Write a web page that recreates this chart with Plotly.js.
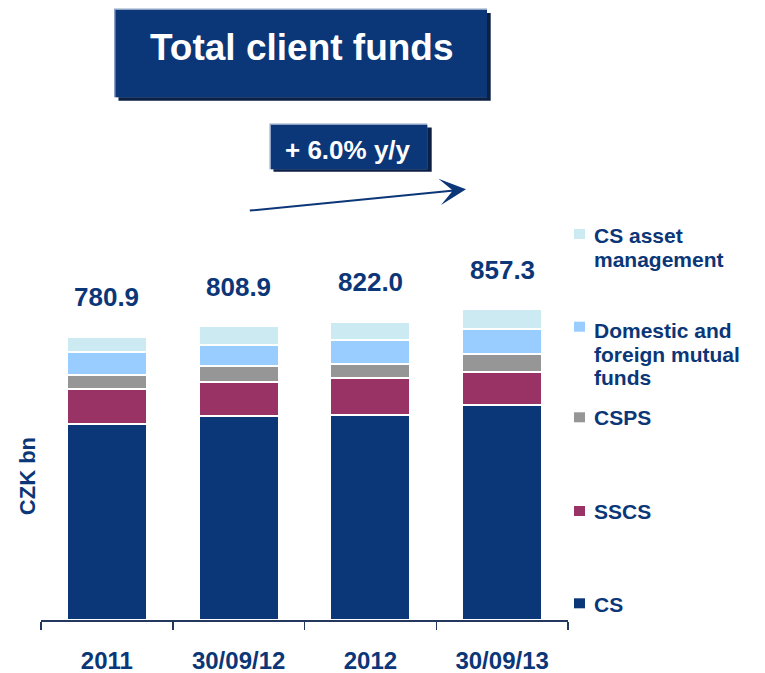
<!DOCTYPE html>
<html>
<head>
<meta charset="utf-8">
<script src="https://cdn.plot.ly/plotly-3.0.1.min.js"></script>
<style>html,body{margin:0;padding:0;background:#fff;}#chart{width:765px;height:673px;}</style>
</head>
<body>
<div id="chart"></div>
<script>
// ---- data ----
const categories = ['2011', '30/09/12', '2012', '30/09/13'];
const cs       = [538.8, 563.2, 565.2, 592.7];
const sscs     = [97.7, 92.7, 102.4, 91.8];
const csps     = [38.6, 43.3, 39.0, 49.6];
const mutual   = [63.7, 59.3, 63.4, 66.2];
const assetMgmt = [42.1, 50.4, 52.0, 57.0];
const totals   = [780.9, 808.9, 822.0, 857.3];
const seriesNames = ['CS', 'SSCS', 'CSPS', 'Domestic and foreign mutual funds', 'CS asset management'];
const titleText = 'Total client funds';
const growthText = '+ 6.0% y/y';
const yTitle = 'CZK bn';

// ---- style ----
const NAVY = '#0b3677';
const colors = ['#0b3677', '#993366', '#969696', '#99ccff', '#cceaf2'];
const FONT = 'Arial, "Liberation Sans", sans-serif';
const W = 765, H = 673, L = 41, R = 197, T = 0, B = 53;
function xp(px) { return (px - L) / (W - L - R); }
function yp(py) { return (H - B - py) / (H - T - B); }

const seriesValues = [cs, sscs, csps, mutual, assetMgmt];
const traces = seriesValues.map((vals, i) => ({
  type: 'bar',
  name: seriesNames[i],
  x: categories,
  y: vals,
  marker: { color: colors[i], line: { color: '#ffffff', width: 2 } },
  hoverinfo: 'x+y+name',
  showlegend: false
}));

const shapes = [];
const annotations = [];

function rectPx(x0, y0, x1, y1, color) {
  shapes.push({ type: 'rect', xref: 'paper', yref: 'paper', x0: xp(x0), x1: xp(x1), y0: yp(y1), y1: yp(y0),
    fillcolor: color, line: { width: 0 }, layer: 'above' });
}

// title box
rectPx(118.5, 13, 490.7, 100.7, '#0c1f44');
rectPx(114, 8.5, 487, 97.3, '#8ea3c3');
rectPx(115.5, 10, 487, 97.3, NAVY);
annotations.push({ xref: 'paper', yref: 'paper', x: xp(302), y: yp(48), xanchor: 'center', yanchor: 'middle',
  text: '<b>' + titleText + '</b>', showarrow: false, font: { family: FONT, size: 37, color: '#ffffff' } });

// growth box
rectPx(273.5, 127.5, 431.7, 171.7, '#0c1f44');
rectPx(269.5, 123.5, 427.3, 169.3, '#8ea3c3');
rectPx(271, 125, 427.3, 169.3, NAVY);
annotations.push({ xref: 'paper', yref: 'paper', x: xp(348), y: yp(150), xanchor: 'center', yanchor: 'middle',
  text: '<b>' + growthText + '</b>', showarrow: false, font: { family: FONT, size: 26, color: '#ffffff' } });

// arrow
annotations.push({ xref: 'paper', yref: 'paper', x: xp(466), y: yp(189.3), ax: 248.3 - 466, ay: 210.7 - 189.3,
  axref: 'pixel', ayref: 'pixel', text: '', showarrow: true, arrowhead: 3, arrowsize: 2.2, arrowwidth: 2, arrowcolor: NAVY });

// total labels (x given as category index)
categories.forEach((c, i) => {
  annotations.push({ xref: 'x', yref: 'y', x: i, y: totals[i], yshift: 39.3, xanchor: 'center', yanchor: 'middle',
    text: '<b>' + totals[i].toFixed(1) + '</b>', showarrow: false, font: { family: FONT, size: 26, color: NAVY } });
});

// y title
annotations.push({ xref: 'paper', yref: 'paper', x: xp(27.5), y: yp(476.7), xanchor: 'center', yanchor: 'middle',
  text: '<b>' + yTitle + '</b>', textangle: -90, showarrow: false, font: { family: FONT, size: 22, color: NAVY } });

// legend (manual, matches reference layout)
const legendItems = [
  { idx: 4, lines: ['CS asset', 'management'], baselines: [242.7, 266.5], marker: 234 },
  { idx: 3, lines: ['Domestic and', 'foreign mutual', 'funds'], baselines: [338.3, 361.8, 385.2], marker: 326.7 },
  { idx: 2, lines: ['CSPS'], baselines: [425], marker: 417.3 },
  { idx: 1, lines: ['SSCS'], baselines: [519], marker: 511 },
  { idx: 0, lines: ['CS'], baselines: [611.7], marker: 603.3 }
];
legendItems.forEach(it => {
  rectPx(574, it.marker - 5, 585, it.marker + 5, colors[it.idx]);
  it.lines.forEach((ln, k) => {
    annotations.push({ xref: 'paper', yref: 'paper', x: xp(592), y: yp(it.baselines[k] - 7.5), xanchor: 'left', yanchor: 'middle',
      text: '<b>' + ln + '</b>', showarrow: false, font: { family: FONT, size: 21, color: NAVY } });
  });
});

const layout = {
  width: W, height: H,
  margin: { l: L, r: R, t: T, b: B, pad: 0 },
  paper_bgcolor: '#ffffff', plot_bgcolor: '#ffffff',
  barmode: 'stack',
  bargap: 0.393,
  showlegend: false,
  xaxis: {
    type: 'category', range: [-0.5, 3.5], fixedrange: true,
    showline: true, linecolor: '#23375f', linewidth: 1.5,
    ticks: 'outside', tickson: 'boundaries', ticklen: 8, tickwidth: 1.5, tickcolor: '#23375f',
    tickfont: { family: FONT, size: 24, color: NAVY, weight: 'bold' },
    ticklabelstandoff: 19,
    showgrid: false, zeroline: false, automargin: false
  },
  yaxis: {
    range: [0, 1708], visible: false, showgrid: false, zeroline: false, fixedrange: true, automargin: false
  },
  shapes: shapes,
  annotations: annotations
};

Plotly.newPlot('chart', traces, layout, { displayModeBar: false, staticPlot: true });
</script>
</body>
</html>
